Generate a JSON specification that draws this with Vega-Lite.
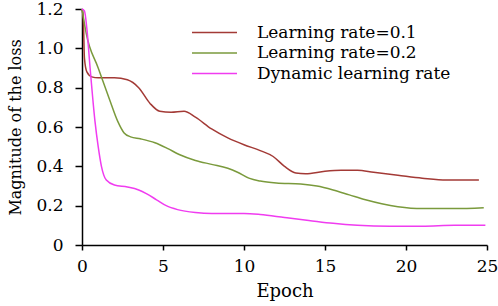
{
  "$schema": "https://vega.github.io/schema/vega-lite/v6.json",
  "autosize": "none",
  "width": 405,
  "height": 236,
  "padding": {"left": 82, "top": 9, "right": 11, "bottom": 61},
  "background": "white",
  "config": {
    "view": {"stroke": null},
    "font": "DejaVu Serif",
    "axis": {
      "domainColor": "black", "tickColor": "black", "labelColor": "black", "titleColor": "black",
      "labelFont": "DejaVu Serif", "titleFont": "DejaVu Serif",
      "labelFontSize": 17, "titleFontSize": 18, "titleFontWeight": "normal", "grid": false,
      "domainWidth": 1.5, "tickWidth": 1.5
    },
    "legend": {"labelFont": "DejaVu Serif", "labelFontSize": 17, "labelColor": "black", "labelLimit": 400}
  },
  "data": {"values": [
    {"series": "Learning rate=0.1", "epoch": 0, "loss": 1.2},
    {"series": "Learning rate=0.1", "epoch": 0.08, "loss": 1.15},
    {"series": "Learning rate=0.1", "epoch": 0.15, "loss": 0.95},
    {"series": "Learning rate=0.1", "epoch": 0.3, "loss": 0.88},
    {"series": "Learning rate=0.1", "epoch": 0.6, "loss": 0.855},
    {"series": "Learning rate=0.1", "epoch": 1, "loss": 0.85},
    {"series": "Learning rate=0.1", "epoch": 2, "loss": 0.85},
    {"series": "Learning rate=0.1", "epoch": 2.8, "loss": 0.84},
    {"series": "Learning rate=0.1", "epoch": 3.5, "loss": 0.8},
    {"series": "Learning rate=0.1", "epoch": 4.2, "loss": 0.72},
    {"series": "Learning rate=0.1", "epoch": 4.8, "loss": 0.68},
    {"series": "Learning rate=0.1", "epoch": 5.5, "loss": 0.675},
    {"series": "Learning rate=0.1", "epoch": 6.3, "loss": 0.68},
    {"series": "Learning rate=0.1", "epoch": 7, "loss": 0.65},
    {"series": "Learning rate=0.1", "epoch": 8, "loss": 0.59},
    {"series": "Learning rate=0.1", "epoch": 9, "loss": 0.545},
    {"series": "Learning rate=0.1", "epoch": 10, "loss": 0.51},
    {"series": "Learning rate=0.1", "epoch": 11, "loss": 0.48},
    {"series": "Learning rate=0.1", "epoch": 11.8, "loss": 0.45},
    {"series": "Learning rate=0.1", "epoch": 12.5, "loss": 0.4},
    {"series": "Learning rate=0.1", "epoch": 13.2, "loss": 0.366},
    {"series": "Learning rate=0.1", "epoch": 13.8, "loss": 0.362},
    {"series": "Learning rate=0.1", "epoch": 15, "loss": 0.375},
    {"series": "Learning rate=0.1", "epoch": 16, "loss": 0.38},
    {"series": "Learning rate=0.1", "epoch": 17, "loss": 0.38},
    {"series": "Learning rate=0.1", "epoch": 18, "loss": 0.37},
    {"series": "Learning rate=0.1", "epoch": 19.5, "loss": 0.355},
    {"series": "Learning rate=0.1", "epoch": 21, "loss": 0.34},
    {"series": "Learning rate=0.1", "epoch": 22.5, "loss": 0.33},
    {"series": "Learning rate=0.1", "epoch": 24.5, "loss": 0.33},
    {"series": "Learning rate=0.2", "epoch": 0, "loss": 1.2},
    {"series": "Learning rate=0.2", "epoch": 0.1, "loss": 1.15},
    {"series": "Learning rate=0.2", "epoch": 0.25, "loss": 1.08},
    {"series": "Learning rate=0.2", "epoch": 1, "loss": 0.9},
    {"series": "Learning rate=0.2", "epoch": 1.7, "loss": 0.74},
    {"series": "Learning rate=0.2", "epoch": 2.2, "loss": 0.63},
    {"series": "Learning rate=0.2", "epoch": 2.6, "loss": 0.57},
    {"series": "Learning rate=0.2", "epoch": 3, "loss": 0.55},
    {"series": "Learning rate=0.2", "epoch": 3.6, "loss": 0.54},
    {"series": "Learning rate=0.2", "epoch": 4.5, "loss": 0.52},
    {"series": "Learning rate=0.2", "epoch": 5.3, "loss": 0.49},
    {"series": "Learning rate=0.2", "epoch": 6, "loss": 0.46},
    {"series": "Learning rate=0.2", "epoch": 7, "loss": 0.43},
    {"series": "Learning rate=0.2", "epoch": 8, "loss": 0.41},
    {"series": "Learning rate=0.2", "epoch": 9, "loss": 0.39},
    {"series": "Learning rate=0.2", "epoch": 9.6, "loss": 0.37},
    {"series": "Learning rate=0.2", "epoch": 10.3, "loss": 0.34},
    {"series": "Learning rate=0.2", "epoch": 11, "loss": 0.325},
    {"series": "Learning rate=0.2", "epoch": 12, "loss": 0.315},
    {"series": "Learning rate=0.2", "epoch": 13.5, "loss": 0.31},
    {"series": "Learning rate=0.2", "epoch": 14.5, "loss": 0.3},
    {"series": "Learning rate=0.2", "epoch": 15.5, "loss": 0.28},
    {"series": "Learning rate=0.2", "epoch": 16.5, "loss": 0.255},
    {"series": "Learning rate=0.2", "epoch": 17.5, "loss": 0.23},
    {"series": "Learning rate=0.2", "epoch": 18.5, "loss": 0.21},
    {"series": "Learning rate=0.2", "epoch": 19.5, "loss": 0.195},
    {"series": "Learning rate=0.2", "epoch": 21, "loss": 0.185},
    {"series": "Learning rate=0.2", "epoch": 23, "loss": 0.185},
    {"series": "Learning rate=0.2", "epoch": 24.8, "loss": 0.19},
    {"series": "Dynamic learning rate", "epoch": 0, "loss": 1.2},
    {"series": "Dynamic learning rate", "epoch": 0.15, "loss": 1.19},
    {"series": "Dynamic learning rate", "epoch": 0.3, "loss": 1.1},
    {"series": "Dynamic learning rate", "epoch": 0.5, "loss": 0.9},
    {"series": "Dynamic learning rate", "epoch": 0.8, "loss": 0.63},
    {"series": "Dynamic learning rate", "epoch": 1.0, "loss": 0.5},
    {"series": "Dynamic learning rate", "epoch": 1.2, "loss": 0.4},
    {"series": "Dynamic learning rate", "epoch": 1.5, "loss": 0.33},
    {"series": "Dynamic learning rate", "epoch": 2, "loss": 0.305},
    {"series": "Dynamic learning rate", "epoch": 2.8, "loss": 0.295},
    {"series": "Dynamic learning rate", "epoch": 3.5, "loss": 0.28},
    {"series": "Dynamic learning rate", "epoch": 4, "loss": 0.26},
    {"series": "Dynamic learning rate", "epoch": 4.6, "loss": 0.23},
    {"series": "Dynamic learning rate", "epoch": 5.2, "loss": 0.2},
    {"series": "Dynamic learning rate", "epoch": 5.9, "loss": 0.18},
    {"series": "Dynamic learning rate", "epoch": 7, "loss": 0.165},
    {"series": "Dynamic learning rate", "epoch": 8, "loss": 0.16},
    {"series": "Dynamic learning rate", "epoch": 10, "loss": 0.16},
    {"series": "Dynamic learning rate", "epoch": 11, "loss": 0.155},
    {"series": "Dynamic learning rate", "epoch": 12.5, "loss": 0.14},
    {"series": "Dynamic learning rate", "epoch": 14, "loss": 0.125},
    {"series": "Dynamic learning rate", "epoch": 15.5, "loss": 0.11},
    {"series": "Dynamic learning rate", "epoch": 17, "loss": 0.1},
    {"series": "Dynamic learning rate", "epoch": 19, "loss": 0.095},
    {"series": "Dynamic learning rate", "epoch": 21, "loss": 0.095},
    {"series": "Dynamic learning rate", "epoch": 23, "loss": 0.1},
    {"series": "Dynamic learning rate", "epoch": 24.9, "loss": 0.1}
  ]},
  "mark": {"type": "line", "interpolate": "monotone", "strokeWidth": 1.5},
  "encoding": {
    "x": {
      "field": "epoch", "type": "quantitative",
      "scale": {"domain": [0, 25], "nice": false, "zero": false},
      "axis": {"values": [0, 5, 10, 15, 20, 25], "title": "Epoch", "tickSize": 5, "labelPadding": 8, "titlePadding": 8, "labelFlush": false}
    },
    "y": {
      "field": "loss", "type": "quantitative",
      "scale": {"domain": [0, 1.2], "nice": false},
      "axis": {"values": [0, 0.2, 0.4, 0.6, 0.8, 1.0, 1.2], "title": "Magnitude of the loss", "titleFontSize": 16, "tickSize": 7, "labelPadding": 12, "titlePadding": 12, "labelFlush": false,
        "labelExpr": "datum.value == 0 ? '0' : format(datum.value, '.1f')"}
    },
    "color": {
      "field": "series", "type": "nominal",
      "scale": {"domain": ["Learning rate=0.1", "Learning rate=0.2", "Dynamic learning rate"], "range": ["#A33A36", "#7A9A3C", "#F03CF0"]},
      "legend": {"title": null, "orient": "none", "legendX": 124, "legendY": 15, "symbolType": "M-3,0H3", "symbolSize": 225, "symbolStrokeWidth": 1.5, "symbolFillColor": "transparent", "labelOffset": 34, "rowPadding": 2.5}
    }
  }
}
